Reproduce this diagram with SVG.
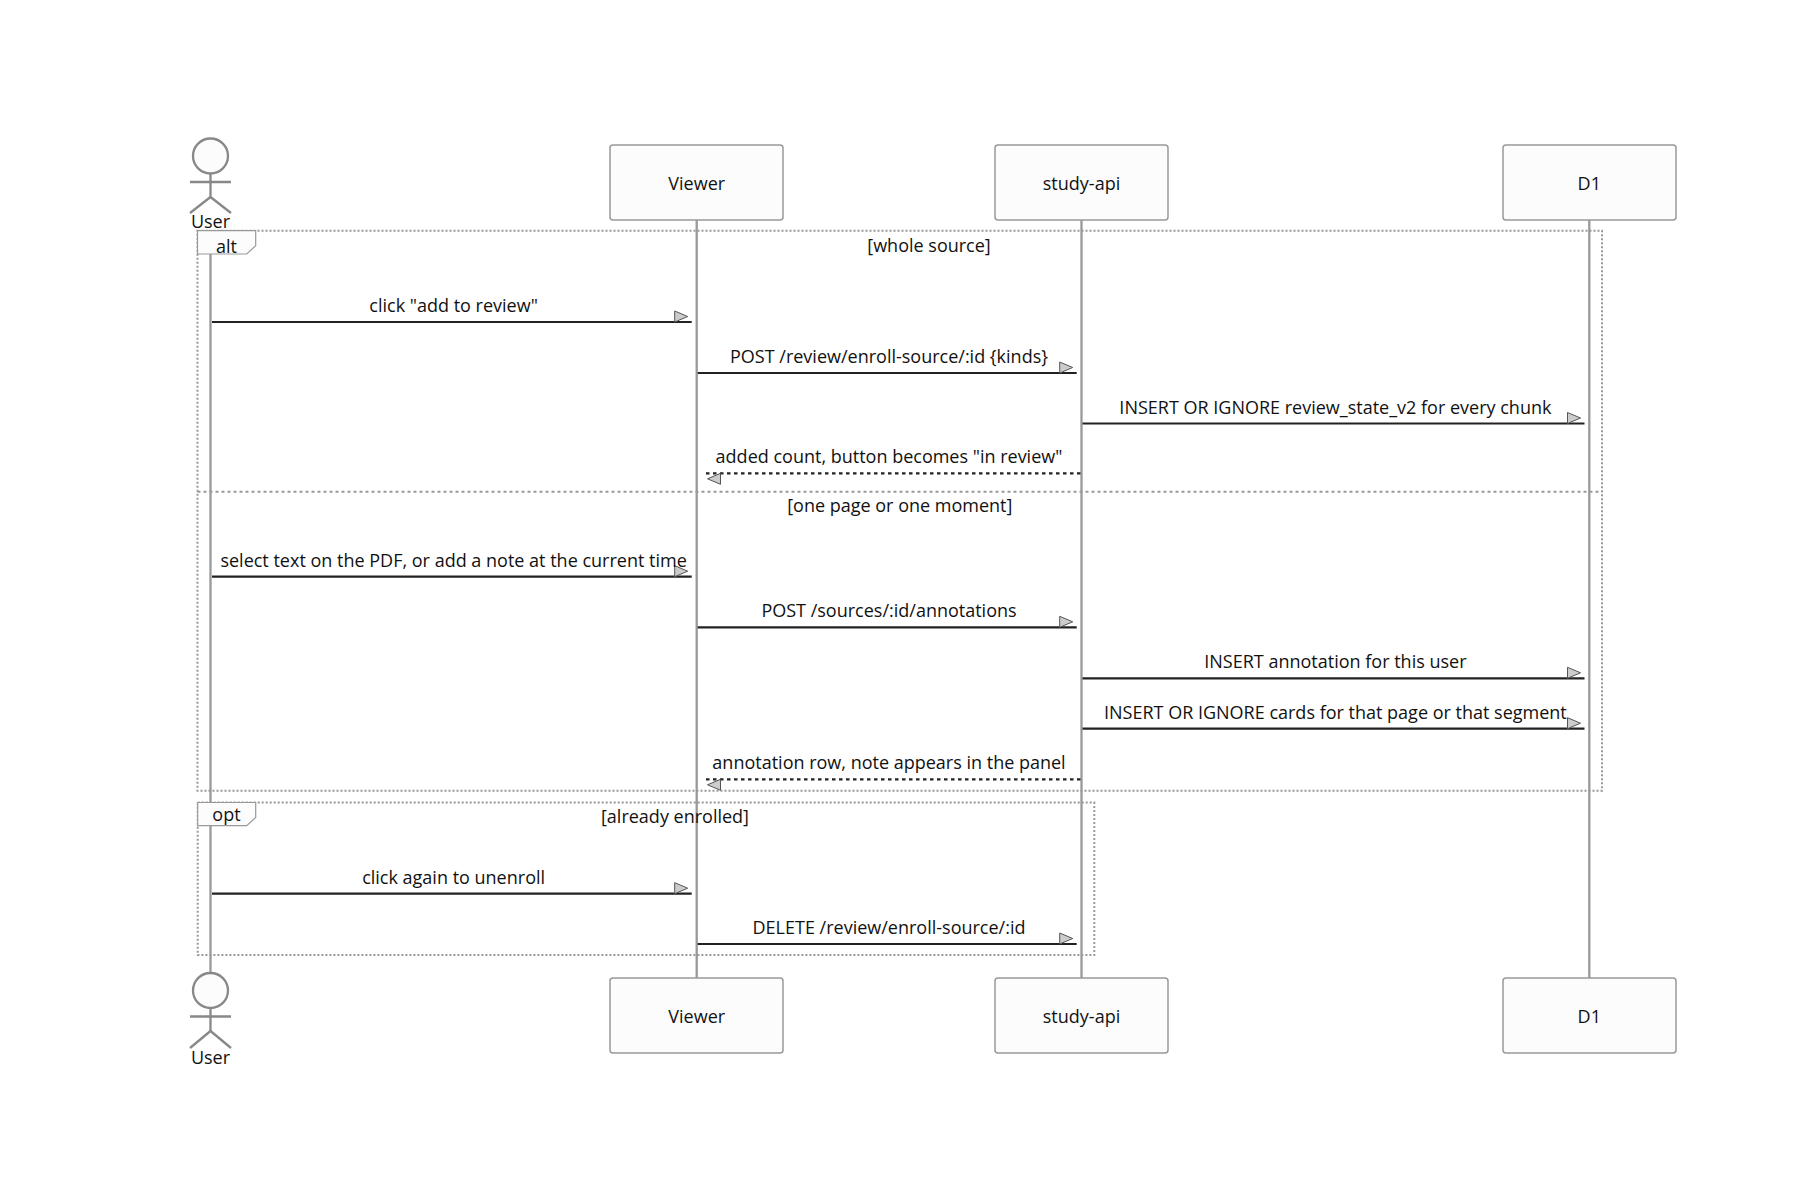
<svg xmlns="http://www.w3.org/2000/svg" width="1800" height="1200" viewBox="0 0 1800 1200">
<style>
  text { font-family: "Open Sans", "Liberation Sans", sans-serif; font-size: 18px; fill: #111; }
  .actor-box { fill: #fcfcfc; stroke: #999; stroke-width: 1.5; }
  .actor-label { text-anchor: middle; dominant-baseline: central; }
  .lifeline { stroke: #999; stroke-width: 2.3; }
  .stick { stroke: #888; stroke-width: 2.3; fill: none; }
  .head { stroke: #888; stroke-width: 2.3; fill: #fcfcfc; }
  .frame { fill: none; stroke: #999; stroke-width: 2; stroke-dasharray: 2 2; }
  .divider { stroke: #999; stroke-width: 2; stroke-dasharray: 3 3; }
  .label-box { fill: #fcfcfc; stroke: #999; stroke-width: 1.2; }
  .frame-text { text-anchor: middle; }
  .msg { stroke: #222; stroke-width: 2.2; fill: none; marker-end: url(#arrow); }
  .reply { stroke: #222; stroke-width: 2.2; fill: none; stroke-dasharray: 3.5 3.5; marker-end: url(#arrow); }
  .msg-text { text-anchor: middle; }
</style>
<defs>
  <marker id="arrow" markerUnits="userSpaceOnUse" markerWidth="24" markerHeight="20" refX="20" refY="14" orient="auto">
    <path d="M3,3 L16,8.5 L3,14 z" fill="#ccc" stroke="#555" stroke-width="1"/>
  </marker>
</defs>
<rect x="0" y="0" width="1800" height="1200" fill="#ffffff"/>

<g id="lifelines">
  <line class="lifeline" x1="210.5" y1="231" x2="210.5" y2="972"/>
  <line class="lifeline" x1="696.7" y1="220" x2="696.7" y2="978"/>
  <line class="lifeline" x1="1081.5" y1="220" x2="1081.5" y2="978"/>
  <line class="lifeline" x1="1589.3" y1="220" x2="1589.3" y2="978"/>
</g>

<g id="frame-alt">
  <rect class="frame" x="197.5" y="230.7" width="1404.5" height="560"/>
  <line class="divider" x1="197.5" y1="491.7" x2="1602" y2="491.7"/>
  <polygon class="label-box" points="197.5,230.7 255.7,230.7 255.7,245.7 246.7,254 197.5,254"/>
  <text class="frame-text" x="226.5" y="252.5">alt</text>
  <text class="frame-text" x="929" y="251.7">[whole source]</text>
  <text class="frame-text" x="899.8" y="511.7">[one page or one moment]</text>
</g>

<g id="frame-opt">
  <rect class="frame" x="197.7" y="802.5" width="896.6" height="152.5"/>
  <polygon class="label-box" points="197.7,802.5 255.7,802.5 255.7,817.5 246.7,825.7 197.7,825.7"/>
  <text class="frame-text" x="226.5" y="821.2">opt</text>
  <text class="frame-text" x="675" y="823.3">[already enrolled]</text>
</g>

<g id="actor-user-top">
  <circle class="head" cx="210.5" cy="156" r="17.5"/>
  <line class="stick" x1="210.5" y1="173.5" x2="210.5" y2="197"/>
  <line class="stick" x1="190" y1="182" x2="231" y2="182"/>
  <line class="stick" x1="210.5" y1="197" x2="190" y2="213"/>
  <line class="stick" x1="210.5" y1="197" x2="231" y2="213"/>
  <text class="msg-text" x="210.5" y="227.5">User</text>
</g>
<g id="actor-viewer-top">
  <rect class="actor-box" x="610" y="145" width="173" height="75" rx="3"/>
  <text class="actor-label" x="696.7" y="182.5">Viewer</text>
</g>
<g id="actor-api-top">
  <rect class="actor-box" x="995" y="145" width="173" height="75" rx="3"/>
  <text class="actor-label" x="1081.5" y="182.5">study-api</text>
</g>
<g id="actor-d1-top">
  <rect class="actor-box" x="1503" y="145" width="173" height="75" rx="3"/>
  <text class="actor-label" x="1589.3" y="182.5">D1</text>
</g>

<g id="actor-user-bottom">
  <circle class="head" cx="210.5" cy="990.5" r="17.5"/>
  <line class="stick" x1="210.5" y1="1008" x2="210.5" y2="1031"/>
  <line class="stick" x1="190" y1="1016.5" x2="231" y2="1016.5"/>
  <line class="stick" x1="210.5" y1="1031" x2="190" y2="1048"/>
  <line class="stick" x1="210.5" y1="1031" x2="231" y2="1048"/>
  <text class="msg-text" x="210.5" y="1064">User</text>
</g>
<g id="actor-viewer-bottom">
  <rect class="actor-box" x="610" y="978" width="173" height="75" rx="3"/>
  <text class="actor-label" x="696.7" y="1015.5">Viewer</text>
</g>
<g id="actor-api-bottom">
  <rect class="actor-box" x="995" y="978" width="173" height="75" rx="3"/>
  <text class="actor-label" x="1081.5" y="1015.5">study-api</text>
</g>
<g id="actor-d1-bottom">
  <rect class="actor-box" x="1503" y="978" width="173" height="75" rx="3"/>
  <text class="actor-label" x="1589.3" y="1015.5">D1</text>
</g>

<g id="connectors">
  <line class="msg" x1="212" y1="322" x2="691.7" y2="322"/>
  <text class="msg-text" x="453.6" y="312">click "add to review"</text>

  <line class="msg" x1="697.7" y1="373" x2="1076.7" y2="373"/>
  <text class="msg-text" x="889" y="363">POST /review/enroll-source/:id {kinds}</text>

  <line class="msg" x1="1082.5" y1="423.5" x2="1584.5" y2="423.5"/>
  <text class="msg-text" x="1335.4" y="413.5">INSERT OR IGNORE review_state_v2 for every chunk</text>

  <line class="reply" x1="1080.5" y1="473.3" x2="703.5" y2="473.3"/>
  <text class="msg-text" x="889" y="463.3">added count, button becomes "in review"</text>

  <line class="msg" x1="212" y1="576.7" x2="691.7" y2="576.7"/>
  <text class="msg-text" x="453.6" y="566.7">select text on the PDF, or add a note at the current time</text>

  <line class="msg" x1="697.7" y1="627.3" x2="1076.7" y2="627.3"/>
  <text class="msg-text" x="889" y="617.3">POST /sources/:id/annotations</text>

  <line class="msg" x1="1082.5" y1="678.3" x2="1584.5" y2="678.3"/>
  <text class="msg-text" x="1335.4" y="668.3">INSERT annotation for this user</text>

  <line class="msg" x1="1082.5" y1="728.7" x2="1584.5" y2="728.7"/>
  <text class="msg-text" x="1335.4" y="718.7">INSERT OR IGNORE cards for that page or that segment</text>

  <line class="reply" x1="1080.5" y1="779.3" x2="703.5" y2="779.3"/>
  <text class="msg-text" x="889" y="769.3">annotation row, note appears in the panel</text>

  <line class="msg" x1="212" y1="893.7" x2="691.7" y2="893.7"/>
  <text class="msg-text" x="453.6" y="883.7">click again to unenroll</text>

  <line class="msg" x1="697.7" y1="944" x2="1076.7" y2="944"/>
  <text class="msg-text" x="889" y="934">DELETE /review/enroll-source/:id</text>
</g>
</svg>
